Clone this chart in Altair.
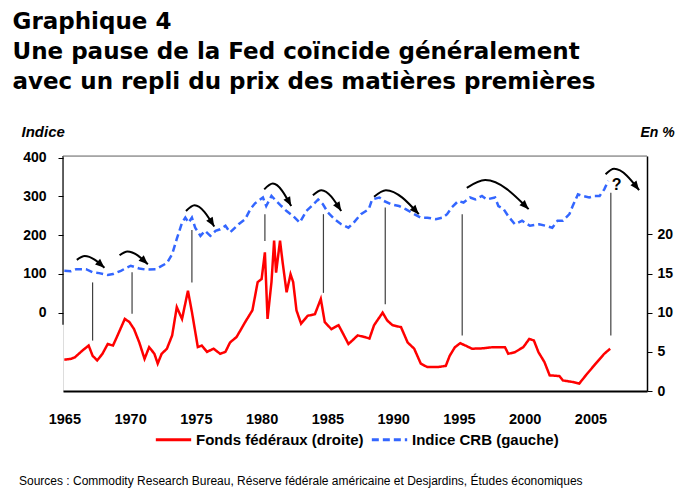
import math
import altair as alt
import pandas as pd

FONT = "Liberation Sans"
TITLE_FONT = "DejaVu Sans"

TITLE_LINES = [
    "Graphique 4",
    "Une pause de la Fed coïncide généralement",
    "avec un repli du prix des matières premières",
]
SOURCE = "Sources : Commodity Research Bureau, Réserve fédérale américaine et Desjardins, Études économiques"
FF_NAME = "Fonds fédéraux (droite)"
CRB_NAME = "Indice CRB (gauche)"
LEFT_TITLE = "Indice"
RIGHT_TITLE = "En %"

# Federal funds rate (right axis, %)
FF_YEARS = [1965.0, 1965.5, 1965.8, 1966.4, 1966.85, 1967.15, 1967.5, 1967.9, 1968.3, 1968.7,
            1969.05, 1969.6, 1969.95, 1970.3, 1970.7, 1971.1, 1971.45, 1971.85, 1972.1, 1972.4,
            1972.8, 1973.2, 1973.55, 1973.95, 1974.4, 1974.7, 1975.15, 1975.45, 1975.85, 1976.35,
            1976.85, 1977.25, 1977.6, 1978.1, 1978.75, 1979.3, 1979.7, 1980.0, 1980.25, 1980.45,
            1980.75, 1980.95, 1981.1, 1981.4, 1981.6, 1981.9, 1982.2, 1982.4, 1982.65, 1983.0,
            1983.5, 1984.05, 1984.5, 1984.8, 1985.3, 1985.85, 1986.2, 1986.6, 1986.9, 1987.3,
            1987.8, 1988.2, 1988.55, 1989.2, 1989.55, 1989.95, 1990.6, 1991.1, 1991.6, 1992.1,
            1992.6, 1993.35, 1994.0, 1994.3, 1994.7, 1995.1, 1995.5, 1996.0, 1996.85, 1997.6,
            1998.5, 1998.75, 1999.25, 1999.9, 2000.35, 2000.7, 2001.05, 2001.5, 2001.9, 2002.65,
            2002.9, 2003.65, 2004.15, 2004.65, 2005.4, 2006.05, 2006.5]
FF_VALUES = [4.0, 4.1, 4.3, 5.2, 5.8, 4.5, 3.9, 4.75, 6.0, 5.8,
             7.1, 9.2, 8.8, 7.9, 6.2, 4.1, 5.6, 4.75, 3.5, 4.75,
             5.4, 7.1, 10.7, 9.2, 12.8, 10.1, 5.6, 5.8, 5.0, 5.4,
             4.75, 5.0, 6.2, 6.9, 8.8, 10.3, 13.9, 14.3, 17.7, 9.2,
             13.9, 19.2, 15.1, 19.2, 16.4, 12.6, 14.9, 13.9, 10.3, 8.6,
             9.6, 9.8, 11.75, 8.8, 7.9, 8.4, 7.3, 6.0, 6.45, 7.1,
             6.9, 6.7, 8.4, 10.0, 9.0, 8.4, 8.15, 6.2, 5.4, 3.5,
             3.05, 3.05, 3.2, 4.5, 5.6, 6.1, 5.8, 5.4, 5.45, 5.6,
             5.6, 4.75, 4.95, 5.6, 6.65, 6.45, 4.95, 3.7, 2.0, 1.9,
             1.35, 1.15, 0.95, 2.0, 3.5, 4.75, 5.4]

# CRB index (left axis)
CRB_YEARS = [1965.0, 1965.5, 1965.9, 1966.65, 1967.15, 1967.65, 1968.3, 1968.7, 1969.3, 1970.05,
             1970.7, 1971.2, 1971.95, 1972.8, 1973.2, 1973.55, 1973.95, 1974.2, 1974.45, 1974.7,
             1974.95, 1975.35, 1975.7, 1976.1, 1976.5, 1976.85, 1977.25, 1977.6, 1978.25, 1978.75,
             1979.15, 1979.5, 1980.1, 1980.35, 1980.75, 1981.0, 1981.5, 1981.9, 1982.4, 1982.9,
             1983.4, 1983.8, 1984.3, 1984.65, 1985.05, 1985.55, 1986.05, 1986.6, 1987.0, 1987.55,
             1988.15, 1988.4, 1988.95, 1989.3, 1989.8, 1990.45, 1990.95, 1991.6, 1992.1, 1992.6,
             1993.25, 1993.75, 1994.1, 1994.45, 1994.95, 1995.35, 1995.85, 1996.25, 1996.75, 1997.1,
             1997.75, 1998.0, 1998.4, 1998.75, 1999.25, 1999.8, 2000.4, 2001.1, 2001.6, 2002.1,
             2002.5, 2002.9, 2003.4, 2003.65, 2004.05, 2004.4, 2004.9, 2005.3, 2005.7, 2006.05,
             2006.35]
CRB_VALUES = [108, 107, 112, 112, 104, 102, 97, 99.5, 108, 121,
              114, 111, 112, 128, 151, 190, 232, 245, 232, 245,
              219, 198, 211, 198, 211, 215, 224, 207, 228, 241,
              267, 282, 297, 275, 301, 292, 275, 262, 249, 232,
              262, 275, 292, 280, 258, 241, 228, 219, 232, 254,
              267, 292, 297, 288, 280, 275, 267, 254, 245, 245,
              241, 245, 254, 271, 288, 284, 297, 292, 301, 292,
              297, 275, 267, 249, 228, 237, 224, 228, 224, 219,
              237, 237, 254, 275, 305, 301, 297, 301, 301, 318,
              340]

X_TICKS = [1965, 1970, 1975, 1980, 1985, 1990, 1995, 2000, 2005]
LEFT_TICKS = [0, 100, 200, 300, 400]
RIGHT_TICKS = [0, 5, 10, 15, 20]

X_DOMAIN = [1964.9, 2009.3]
LEFT_DOMAIN = [-202, 404]
RIGHT_DOMAIN = [0, 30]
LEFT_AXIS_SPAN = [-31, 404]

# Fed pauses: vertical connector lines (values on the left axis)
PAUSE_YEARS = [1967.15, 1970.15, 1974.7, 1980.25, 1984.7, 1989.4, 1995.25, 2006.55]
PAUSE_TOP = [78, 104, 213, 254, 254, 271, 254, 309]
PAUSE_BOTTOM = [-72, -3, 78, 185, 51, 22, -59, -59]

# Curved arrows: start, peak, end (years / left-axis values)
ARROW_X = [[1965.95, 1966.55, 1968.05], [1969.2, 1969.8, 1971.35], [1974.25, 1974.9, 1976.4],
           [1980.2, 1980.85, 1982.25], [1983.9, 1984.55, 1986.05], [1988.55, 1989.45, 1991.95],
           [1995.6, 1997.0, 2000.3], [2006.15, 2006.8, 2008.7]]
ARROW_Y = [[136, 146, 116], [148, 158, 125], [262, 277, 222], [318, 333, 275],
           [303, 316, 262], [299, 316, 254], [322, 342, 267], [357, 371, 316]]

QMARK_YEAR = 2007.0
QMARK_VALUE = 328
QMARK_TEXT = "?"

W, H = 584, 235

ff_df = pd.DataFrame({"year": FF_YEARS, "value": FF_VALUES, "serie": FF_NAME})
crb_df = pd.DataFrame({"year": CRB_YEARS, "value": CRB_VALUES, "serie": CRB_NAME})
pause_df = pd.DataFrame({"year": PAUSE_YEARS, "top": PAUSE_TOP, "bottom": PAUSE_BOTTOM})

arrow_rows, head_rows = [], []
px_year = W / (X_DOMAIN[1] - X_DOMAIN[0])
px_unit = H / (LEFT_DOMAIN[1] - LEFT_DOMAIN[0])
for i, (xs, ys) in enumerate(zip(ARROW_X, ARROW_Y)):
    for k, (xv, yv) in enumerate(zip(xs, ys)):
        arrow_rows.append({"arrow": i, "order": k, "year": xv, "value": yv})
    dx = (xs[2] - xs[1]) * px_year
    dy = (ys[1] - ys[2]) * px_unit
    theta = math.degrees(math.atan2(1.5 * dy, dx))
    head_rows.append({"year": xs[2], "value": ys[2], "angle": 90 + theta})
arrow_df = pd.DataFrame(arrow_rows)
head_df = pd.DataFrame(head_rows)
q_df = pd.DataFrame({"year": [QMARK_YEAR], "value": [QMARK_VALUE], "t": [QMARK_TEXT]})
frame_left_df = pd.DataFrame({"year": [X_DOMAIN[0]], "lo": [LEFT_AXIS_SPAN[0]], "hi": [LEFT_AXIS_SPAN[1]]})
frame_top_df = pd.DataFrame({"value": [LEFT_DOMAIN[1]]})

x_axis = alt.Axis(values=X_TICKS, format="d", ticks=False, labelPadding=21, labelFontSize=14.5,
                  labelFontWeight="bold", labelFont=FONT, labelColor="black", labelFlush=False,
                  labelOverlap=False, domainColor="black", domainWidth=2, grid=False, title=None)
x_scale = alt.Scale(domain=X_DOMAIN, nice=False, zero=False)


def X(field="year"):
    return alt.X(f"{field}:Q", scale=x_scale, axis=x_axis)


def yl(field="value", axis=None):
    return alt.Y(f"{field}:Q", scale=alt.Scale(domain=LEFT_DOMAIN, nice=False, zero=False), axis=axis)


left_axis = alt.Axis(values=LEFT_TICKS, orient="left", domain=False, tickSize=5, tickColor="black",
                     labelPadding=12, labelFontSize=14, labelFontWeight="bold", labelFont=FONT,
                     labelColor="black", grid=False, title=LEFT_TITLE, titleAngle=0, titleX=-42,
                     titleY=-20, titleAlign="left", titleBaseline="alphabetic", titleFont=FONT,
                     titleFontSize=15, titleFontStyle="italic", titleFontWeight="bold", titleColor="black")
right_axis = alt.Axis(values=RIGHT_TICKS, orient="right", domain=True, domainColor="black", domainWidth=1.5,
                      tickSize=5, tickColor="black", labelPadding=5, labelFontSize=14, labelFontWeight="bold",
                      labelFont=FONT, labelColor="black", grid=False, title=RIGHT_TITLE, titleAngle=0,
                      titleX=-7, titleY=-20, titleAlign="left", titleBaseline="alphabetic", titleFont=FONT,
                      titleFontSize=14, titleFontStyle="italic", titleFontWeight="bold", titleColor="black")

legend = alt.Legend(title=None, orient="none", legendX=91, legendY=264, direction="horizontal",
                    symbolType="stroke", symbolStrokeWidth=3, symbolSize=1250, labelFont=FONT,
                    labelFontSize=15, labelFontWeight="bold", labelColor="black", labelOffset=3,
                    labelLimit=400, columnPadding=1)
color = alt.Color("serie:N", scale=alt.Scale(domain=[FF_NAME, CRB_NAME], range=["#FF0000", "#3366FF"]),
                  legend=legend)
dash = alt.StrokeDash("serie:N", scale=alt.Scale(domain=[FF_NAME, CRB_NAME], range=[[1, 0], [7, 4]]),
                      legend=legend)

pauses = alt.Chart(pause_df).mark_rule(color="#404040", strokeWidth=1.2).encode(
    x=X(), y=yl("top"), y2="bottom:Q")

ff_line = alt.Chart(ff_df).mark_line(strokeWidth=2.5).encode(
    x=X(),
    y=alt.Y("value:Q", scale=alt.Scale(domain=RIGHT_DOMAIN, nice=False, zero=False), axis=right_axis),
    color=color, strokeDash=dash)

crb_line = alt.Chart(crb_df).mark_line(strokeWidth=2.5).encode(
    x=X(), y=yl("value", left_axis), color=color, strokeDash=dash)

arrows = alt.Chart(arrow_df).mark_line(interpolate="monotone", color="black", strokeWidth=2).encode(
    x=X(), y=yl(), detail="arrow:N", order="order:Q")

heads = alt.Chart(head_df).mark_point(shape="M0,0L0.62,1.5L-0.62,1.5Z", filled=True, color="black",
                                      opacity=1, size=150).encode(
    x=X(), y=yl(), angle=alt.Angle("angle:Q", scale=None))

qmark = alt.Chart(q_df).mark_text(font=FONT, fontSize=16, fontWeight="bold", color="black").encode(
    x=X(), y=yl(), text="t:N")

frame_left = alt.Chart(frame_left_df).mark_rule(color="black", strokeWidth=1.2).encode(
    x=X(), y=yl("lo"), y2="hi:Q")

frame_top = alt.Chart(frame_top_df).mark_rule(color="#6e6e6e", strokeWidth=1).encode(y=yl("value"))

inner = alt.layer(pauses, ff_line, crb_line, arrows, heads, qmark, frame_left, frame_top).resolve_scale(
    y="independent").properties(
    width=W, height=H,
    title=alt.Title(SOURCE, orient="bottom", anchor="start", font=FONT, fontSize=12, fontWeight="normal",
                    color="black", offset=28, dx=-2))

chart = alt.vconcat(inner).resolve_legend(color="independent", strokeDash="independent").properties(
    title=alt.Title(TITLE_LINES, anchor="start", font=TITLE_FONT, fontSize=23, fontWeight="bold", lineHeight=30,
                    color="black", offset=30, dx=-6),
    padding={"left": 4, "top": 2, "right": 5, "bottom": 2},
).configure_view(stroke=None).configure(background="white")

chart.save("out.html", embed_options={"renderer": "svg", "actions": False})
